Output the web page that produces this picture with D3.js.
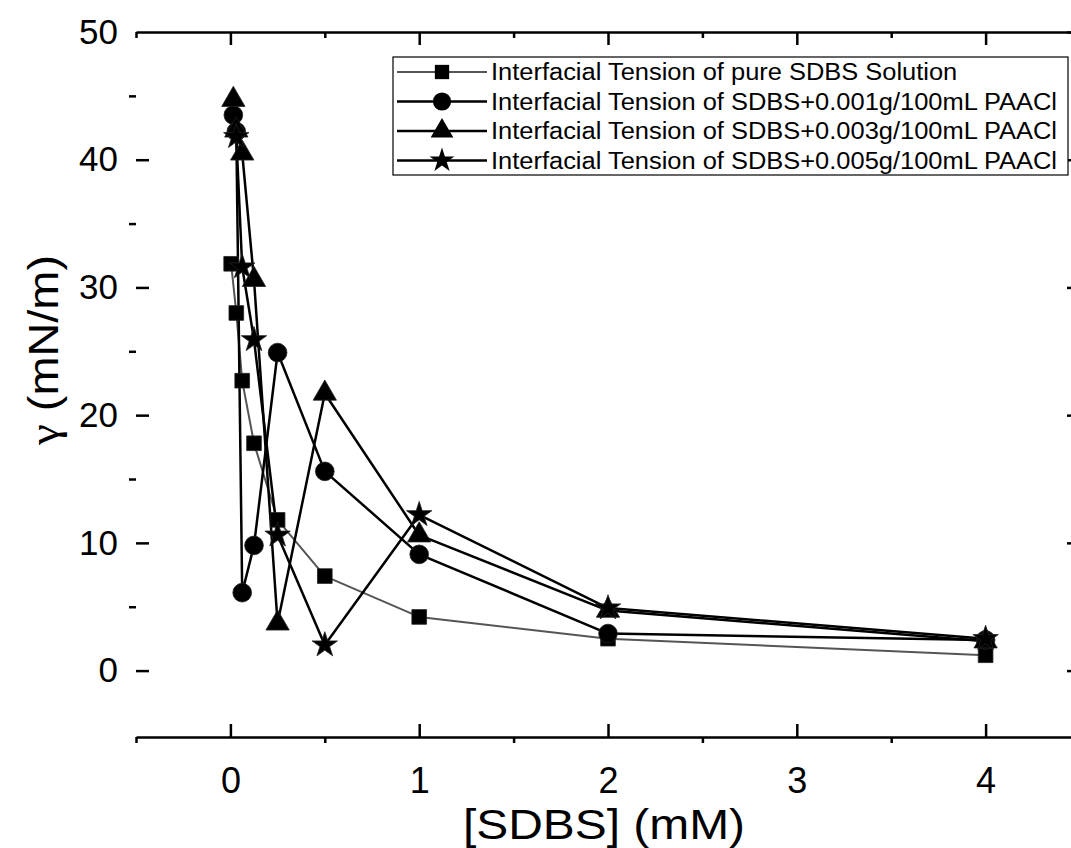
<!DOCTYPE html>
<html>
<head>
<meta charset="utf-8">
<script src="https://cdn.jsdelivr.net/npm/d3@7"></script>
<style>
  body { margin: 0; background: #fff; }
  svg { display: block; }
  text { font-family: "Liberation Sans", Arial, sans-serif; fill: #000; }
</style>
</head>
<body>
<svg id="chart" width="1071" height="848"></svg>
<script>
// concentrations (mM)
let concPure = [0.004, 0.03125, 0.0625, 0.125, 0.25, 0.5, 1, 2, 4];
let conc = [0.0156, 0.03125, 0.0625, 0.125, 0.25, 0.5, 1, 2, 4];
let concStar = [0.03125, 0.0625, 0.125, 0.25, 0.5, 1, 2, 4];

// interfacial tension (mN/m)
let pureSDBS = [31.85, 28.0, 22.7, 17.8, 11.8, 7.4, 4.2, 2.5, 1.2];
let paac001 = [43.5, 42.2, 6.1, 9.8, 24.9, 15.6, 9.1, 2.9, 2.4];
let paac003 = [44.7, 42.3, 40.5, 30.6, 3.7, 21.7, 10.6, 4.7, 2.3];
let paac005 = [41.8, 31.6, 25.9, 10.6, 2.0, 12.2, 4.9, 2.5];

let seriesNames = [
  "Interfacial Tension of pure SDBS Solution",
  "Interfacial Tension of SDBS+0.001g/100mL PAACl",
  "Interfacial Tension of SDBS+0.003g/100mL PAACl",
  "Interfacial Tension of SDBS+0.005g/100mL PAACl"
];
let xTicks = [0, 1, 2, 3, 4];
let yTicks = [0, 10, 20, 30, 40, 50];

let svg = d3.select("#chart");

let x = d3.scaleLinear().domain([-0.5, 4.5]).range([136, 1080]);
let y = d3.scaleLinear().domain([-5.2, 50]).range([737, 32]);

let series = [
  { name: seriesNames[0], xs: concPure, ys: pureSDBS, sym: d3.symbolSquare, size: 215, line: "#555", lw: 2 },
  { name: seriesNames[1], xs: conc, ys: paac001, sym: d3.symbolCircle, size: 275, line: "#000", lw: 2.5 },
  { name: seriesNames[2], xs: conc, ys: paac003, sym: d3.symbolTriangle, size: 235, line: "#000", lw: 2.5 },
  { name: seriesNames[3], xs: concStar, ys: paac005, sym: d3.symbolStar, size: 200, line: "#000", lw: 2.5 }
];

// axes -----------------------------------------------------------
let minorX = d3.range(-0.5, 4.6, 1);
let minorY = [5, 15, 25, 35, 45];

let axBottom = svg.append("g").attr("transform", "translate(0,737)")
  .call(d3.axisBottom(x).tickValues(xTicks).tickFormat(d3.format("d"))
    .tickSize(-13).tickPadding(30).tickSizeOuter(0));
axBottom.select(".domain").attr("stroke-width", 2.5);
axBottom.selectAll(".tick line").attr("stroke-width", 2.5);
axBottom.selectAll("text").attr("font-size", 36).attr("font-family", "Liberation Sans, Arial");
svg.append("g").attr("transform", "translate(0,737)")
  .call(d3.axisBottom(x).tickValues(minorX).tickSize(6).tickFormat("").tickSizeOuter(0))
  .call(g => g.select(".domain").remove())
  .selectAll(".tick line").attr("stroke-width", 2.5);

let axTop = svg.append("g").attr("transform", "translate(0,32)")
  .call(d3.axisTop(x).tickValues(xTicks).tickSize(-13).tickFormat("").tickSizeOuter(0));
axTop.select(".domain").attr("stroke-width", 2.5);
axTop.selectAll(".tick line").attr("stroke-width", 2.5);
svg.append("g").attr("transform", "translate(0,32)")
  .call(d3.axisTop(x).tickValues(minorX).tickSize(-6).tickFormat("").tickSizeOuter(0))
  .call(g => g.select(".domain").remove())
  .selectAll(".tick line").attr("stroke-width", 2.5);

let axLeft = svg.append("g").attr("transform", "translate(136,0)")
  .call(d3.axisLeft(y).tickValues(yTicks.filter(d => d < 50)).tickSize(-13).tickPadding(18));
axLeft.select(".domain").remove();
axLeft.selectAll(".tick line").attr("stroke-width", 2.5);
axLeft.selectAll("text").attr("font-size", 35).attr("font-family", "Liberation Sans, Arial");
svg.append("g").attr("transform", "translate(136,0)")
  .call(d3.axisLeft(y).tickValues(minorY).tickSize(7).tickFormat(""))
  .call(g => g.select(".domain").remove())
  .selectAll(".tick line").attr("stroke-width", 2.5);
// label for the top value, the corner has no tick of its own
svg.append("text").attr("x", 118).attr("y", y(50)).attr("dy", "0.35em")
  .attr("text-anchor", "end").attr("font-size", 35).text("50");

let axRight = svg.append("g").attr("transform", "translate(1080,0)")
  .call(d3.axisRight(y).tickValues(yTicks).tickSize(-13).tickFormat(""));
axRight.select(".domain").remove();
axRight.selectAll(".tick line").attr("stroke-width", 2.5);

// titles
svg.append("text").attr("x", 604).attr("y", 839).attr("text-anchor", "middle")
  .attr("font-size", 42).attr("textLength", 282).attr("lengthAdjust", "spacingAndGlyphs")
  .text("[SDBS] (mM)");
let yt = svg.append("text").attr("transform", "translate(58,350) rotate(-90)")
  .attr("text-anchor", "middle").attr("font-size", 42)
  .attr("textLength", 190).attr("lengthAdjust", "spacingAndGlyphs");
yt.append("tspan").attr("font-family", "Liberation Serif, serif").text("γ");
yt.append("tspan").text(" (mN/m)");

// lines and markers ----------------------------------------------
let line = d3.line().x(d => x(d[0])).y(d => y(d[1]));

series.forEach(function(s) {
  let pts = s.xs.map((v, i) => [v, s.ys[i]]);
  svg.append("path").datum(pts)
    .attr("d", line)
    .attr("fill", "none")
    .attr("stroke", s.line)
    .attr("stroke-width", s.lw)
    .attr("stroke-linejoin", "round");
});

series.forEach(function(s) {
  let pts = s.xs.map((v, i) => [v, s.ys[i]]);
  let sym = d3.symbol().type(s.sym).size(s.size);
  svg.append("g").selectAll("path").data(pts).enter()
    .append("path")
    .attr("d", sym)
    .attr("transform", d => `translate(${x(d[0])},${y(d[1])})`)
    .attr("fill", "#000")
    .attr("stroke", "#222")
    .attr("stroke-width", 0.8);
});

// legend -----------------------------------------------------------
let lg = svg.append("g");
lg.append("rect").attr("x", 393).attr("y", 57).attr("width", 675).attr("height", 118)
  .attr("fill", "#fff").attr("stroke", "#000").attr("stroke-width", 1.2);

let labels = [];
series.forEach(function(s, i) {
  let ry = 72 + i * 29.5;
  lg.append("line").attr("x1", 397).attr("x2", 487).attr("y1", ry).attr("y2", ry)
    .attr("stroke", s.line).attr("stroke-width", s.lw);
  lg.append("path").attr("d", d3.symbol().type(s.sym).size(s.size * 0.95))
    .attr("transform", `translate(442,${ry})`).attr("fill", "#000");
  labels.push(lg.append("text").attr("x", 491).attr("y", ry).attr("dy", "0.36em")
    .attr("font-size", 23).text(s.name));
});
// the picture's lettering is a bit wider than the font: stretch so the long rows end near 1058
let widest = d3.max(labels, t => t.node().getComputedTextLength());
let k = 566 / widest;
labels.forEach(t => t.attr("textLength", t.node().getComputedTextLength() * k)
  .attr("lengthAdjust", "spacingAndGlyphs"));
</script>
</body>
</html>
